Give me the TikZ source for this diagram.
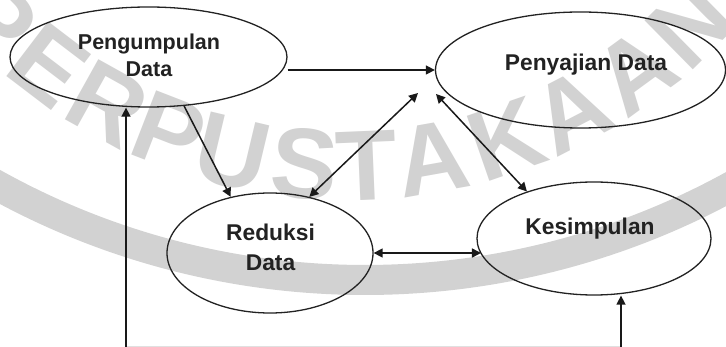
\documentclass[tikz,border=0pt]{standalone}
\usepackage{fontspec}
\setmainfont{Liberation Sans}
\usetikzlibrary{shapes.geometric,arrows.meta}
\definecolor{wmgray}{RGB}{210,210,210}
\definecolor{ink}{RGB}{34,34,34}
\begin{document}
\begin{tikzpicture}[x=1pt,y=-1pt,
  oval/.style={draw=ink, line width=1.3pt, ellipse, inner sep=0pt},
  lbl/.style={text=ink, font=\bfseries\fontsize{22.8}{30}\selectfont, align=center, inner sep=0pt},
  wmletter/.style={text=wmgray, font=\bfseries\fontsize{100}{100}\selectfont, inner sep=0pt},
  conn/.style={draw=black!90, line width=1.5pt},
  arr/.style={-{Triangle[length=9pt,width=9pt]}},
  darr/.style={{Triangle[length=9pt,width=9pt]}-{Triangle[length=9pt,width=9pt]}}
]
\fill[white] (0,0) rectangle (726,347);
\useasboundingbox (0,0) rectangle (726,347);

% watermark
\begin{scope}
  \clip (0,0) rectangle (726,347);
  \draw[wmgray, line width=30pt] (365,-482.8) ++(121:762.8) arc[start angle=121, end angle=59, radius=762.8];
  \foreach \ch/\ang [count=\i] in {P/-45.5,E/-37.3,R/-29.1,P/-21.2,U/-13.4,S/-4.8,T/2.4,A/10.1,K/19.1,A/27.4,A/36.2,N/44.6}
    \node[wmletter, rotate=\ang] (wm\i) at ({346+490*sin(\ang)},{-324+490*cos(\ang)}) {\ch};
\end{scope}

% ellipses
\node[oval, minimum width=277pt, minimum height=100pt] (peng) at (148.5,57) {};
\node[oval, minimum width=290pt, minimum height=116pt] (pen) at (580.5,70) {};
\node[oval, minimum width=206pt, minimum height=120pt] (red) at (270,253) {};
\node[oval, minimum width=234pt, minimum height=113pt] (kes) at (594,238.5) {};

% texts
\node[lbl, font=\bfseries\fontsize{21.5}{27}\selectfont] (pengT) at (149,55.5) {Pengumpulan\\Data};
\node[lbl] (redT) at (270.5,247) {Reduksi\\Data};
\node[lbl, anchor=base] (penT) at (586,71) {Penyajian Data};
\node[lbl, anchor=base] (kesT) at (590,235) {Kesimpulan};

% connectors
\coordinate (c1) at (418,93);
\coordinate (c2) at (436,94);
\coordinate (b1) at (126,347);
\coordinate (b2) at (621,347);
\draw[conn, arr] (peng.east |- pen.west) -- (pen.west);
\draw[conn, arr] (peng.-54) -- (red.125);
\draw[conn, darr] (red.55) -- (c1);
\draw[conn, darr] (c2) -- (kes.145);
\draw[conn, darr] (red.east) -- (red.east -| kes.188);
\draw[black!12, line width=1pt] (b1) -- (b2);
\draw[conn, arr] (b1) -- (b1 |- peng.south);
\draw[conn, arr] (b2) -- (b2 |- kes.south);
\end{tikzpicture}
\end{document}
